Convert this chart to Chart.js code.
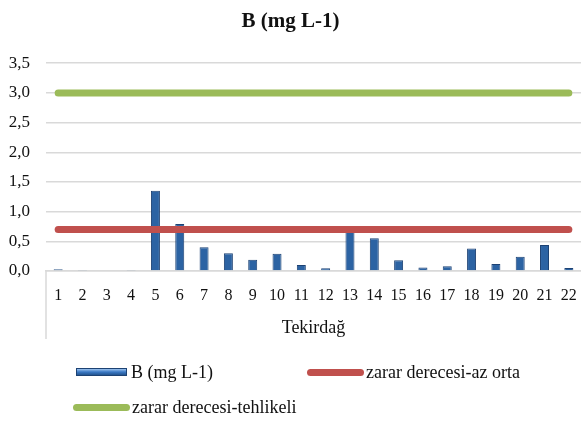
<!DOCTYPE html>
<html lang="tr">
<head>
<meta charset="UTF-8">
<title>B (mg L-1)</title>
<style>
    * { margin: 0; padding: 0; box-sizing: border-box; }
    body { width: 581px; height: 422px; background: #fff; font-family: "Liberation Serif", "Times New Roman", serif; }
    .wrap { position: relative; width: 581px; height: 422px; }
    .plot { position: absolute; left: 0; top: 0; width: 581px; height: 345px; }
    .legend { position: absolute; left: 0; top: 0; width: 581px; height: 422px; pointer-events: none; }
    .item { position: absolute; display: flex; align-items: center; height: 22px;
        font-family: "Liberation Serif", "Times New Roman", serif; font-size: 18px; color: #111; white-space: nowrap; }
    .swatch { display: inline-block; margin-right: 4px; }
    .bar-sw { width: 51px; height: 8px; border: 1px solid #1d4273;
        background: linear-gradient(#9cc3ee, #3a78c4 50%, #24558f); }
    .line-sw { width: 57px; height: 7px; border-radius: 4px; margin-right: 2px; }
</style>
<script src="https://cdn.jsdelivr.net/npm/chart.js"></script>
</head>
<body>
<div class="wrap">
    <div class="plot"><canvas id="bChart"></canvas></div>
    <div class="legend" id="legend"></div>
</div>

<script>
    const categories = ['1', '2', '3', '4', '5', '6', '7', '8', '9', '10', '11',
        '12', '13', '14', '15', '16', '17', '18', '19', '20', '21', '22'];
    const boronValues = [0.03, 0.01, 0.0, 0.01, 1.35, 0.79, 0.40, 0.30, 0.19, 0.29, 0.10,
        0.045, 0.72, 0.55, 0.18, 0.06, 0.08, 0.38, 0.12, 0.24, 0.44, 0.05];
    const azOrta = [0.7, 0.7, 0.7, 0.7, 0.7, 0.7, 0.7, 0.7, 0.7, 0.7, 0.7,
        0.7, 0.7, 0.7, 0.7, 0.7, 0.7, 0.7, 0.7, 0.7, 0.7, 0.7];
    const tehlikeli = [3.0, 3.0, 3.0, 3.0, 3.0, 3.0, 3.0, 3.0, 3.0, 3.0, 3.0,
        3.0, 3.0, 3.0, 3.0, 3.0, 3.0, 3.0, 3.0, 3.0, 3.0, 3.0];
    const yTicks = [0, 0.5, 1.0, 1.5, 2.0, 2.5, 3.0, 3.5];

    const serif = '"Liberation Serif", "Times New Roman", serif';
    const gridGray = '#d9d9d9';

    // the category axis in Excel has a tall tick on its left end
    const leftAxisLine = {
        id: 'leftAxisLine',
        afterDraw(chart) {
            const ctx = chart.ctx;
            const x = chart.scales.x;
            ctx.save();
            ctx.strokeStyle = gridGray;
            ctx.lineWidth = 1.5;
            ctx.beginPath();
            ctx.moveTo(x.left, chart.chartArea.bottom);
            ctx.lineTo(x.left, x.bottom - 6);
            ctx.stroke();
            ctx.restore();
        }
    };

    const ctx = document.getElementById('bChart').getContext('2d');
    new Chart(ctx, {
        type: 'bar',
        data: {
            labels: categories,
            datasets: [
                {
                    label: 'B (mg L-1)',
                    data: boronValues,
                    backgroundColor: '#2c63a3',
                    borderColor: '#1d4273',
                    borderWidth: 1,
                    categoryPercentage: 1,
                    barPercentage: 0.37,
                    order: 2
                },
                {
                    type: 'line',
                    label: 'zarar derecesi-az orta',
                    data: azOrta,
                    borderColor: '#c0504d',
                    borderWidth: 7,
                    borderCapStyle: 'round',
                    pointRadius: 0,
                    fill: false,
                    order: 1
                },
                {
                    type: 'line',
                    label: 'zarar derecesi-tehlikeli',
                    data: tehlikeli,
                    borderColor: '#9bbb59',
                    borderWidth: 7,
                    borderCapStyle: 'round',
                    pointRadius: 0,
                    fill: false,
                    order: 1
                }
            ]
        },
        options: {
            responsive: true,
            maintainAspectRatio: false,
            animation: false,
            layout: { padding: 0 },
            plugins: {
                legend: { display: false },
                tooltip: { enabled: false },
                title: {
                    display: true,
                    text: 'B (mg L-1)',
                    color: '#111',
                    font: { family: serif, size: 21, weight: 'bold' },
                    padding: { top: 9, bottom: 29 }
                }
            },
            scales: {
                x: {
                    grid: { display: false, drawTicks: false },
                    border: { display: true, color: gridGray, width: 1.5 },
                    ticks: {
                        color: '#111',
                        font: { family: serif, size: 16 },
                        padding: 15,
                        maxRotation: 0,
                        autoSkip: false
                    },
                    title: {
                        display: true,
                        text: 'Tekirdağ',
                        color: '#111',
                        font: { family: serif, size: 18 },
                        padding: { top: 0, bottom: 6 }
                    },
                    afterFit(scale) {
                        scale.height = 74;
                        scale.paddingLeft = 0;
                        scale.paddingRight = 0;
                    }
                },
                y: {
                    min: 0,
                    max: 3.5,
                    afterBuildTicks(scale) {
                        scale.ticks = yTicks.map(v => ({ value: v }));
                    },
                    grid: { color: gridGray, lineWidth: 1.5, drawTicks: false },
                    border: { display: false },
                    ticks: {
                        color: '#111',
                        font: { family: serif, size: 17 },
                        padding: 16,
                        callback: v => v.toFixed(1).replace('.', ',')
                    },
                    afterFit(scale) {
                        scale.width = 46;
                    }
                }
            }
        },
        plugins: [leftAxisLine]
    });

    // legend laid out like the Excel one: two items on the first row, one below
    const legendItems = [
        { text: 'B (mg L-1)', kind: 'bar', color: '#2c63a3', left: 76, top: 372 },
        { text: 'zarar derecesi-az orta', kind: 'line', color: '#c0504d', left: 307, top: 372 },
        { text: 'zarar derecesi-tehlikeli', kind: 'line', color: '#9bbb59', left: 73, top: 407 }
    ];
    const legend = document.getElementById('legend');
    legendItems.forEach(it => {
        const el = document.createElement('div');
        el.className = 'item';
        el.style.left = it.left + 'px';
        el.style.top = (it.top - 11) + 'px';
        const sw = document.createElement('span');
        sw.className = 'swatch ' + (it.kind === 'bar' ? 'bar-sw' : 'line-sw');
        if (it.kind === 'line') sw.style.background = it.color;
        el.appendChild(sw);
        el.appendChild(document.createTextNode(it.text));
        legend.appendChild(el);
    });
</script>
</body>
</html>
